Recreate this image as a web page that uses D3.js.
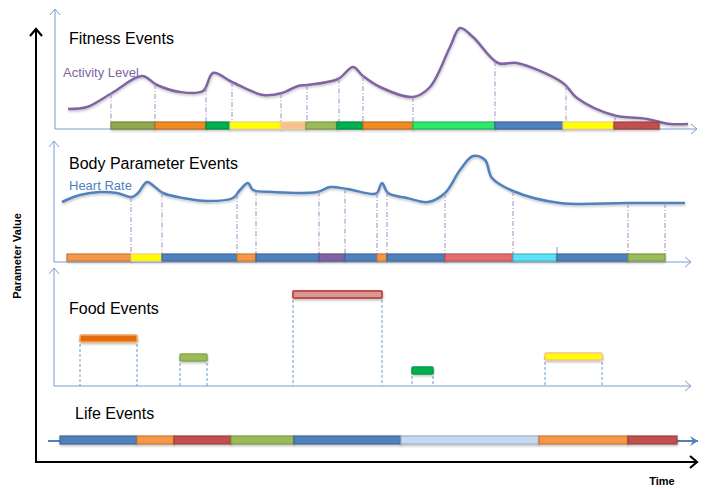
<!DOCTYPE html>
<html>
<head>
<meta charset="utf-8">
<script src="https://cdn.jsdelivr.net/npm/d3@7"></script>
<style>
  body { margin: 0; background: #fff; }
  text { font-family: "Liberation Sans", Arial, sans-serif; }
</style>
</head>
<body>
<div id="chart"></div>
<script>
// time runs from 0 to 630 along every panel, levels are 0..100

// Fitness panel
var activityLevel = [[8,20],[27,22],[52,36],[82,53],[97,44],[120,37],[143,38],[153,56],[172,47],
  [203,34],[222,36],[238,43],[247,44],[278,50],[293,62],[303,53],[320,42],[353,32],[370,42],
  [390,82],[400,101],[413,92],[438,66],[457,66],[503,46],[517,31],[553,14],[587,10],[610,5],[628,5]];
var fitnessBreaks = [51,95,146,170,221,246,277,303,353,435,503,554,599];
var fitnessColors = ["#8EAA4E","#F08A24","#00B050","#FFFF00","#FAC090","#9BBB59",
  "#00B050","#F08A24","#2EE86A","#4F81BD","#FFFF00","#C0504D"];
var fitnessMarks = [51,95,146,172,221,247,279,303,353,435,506,555];

// Body parameter panel
var heartRate = [[2,60],[20,67],[40,70],[57,69],[72,65],[78,69],[87,80],[95,75],[103,69],[123,64],
  [147,61],[173,64],[180,72],[188,79],[193,72],[213,70],[257,70],[270,75],[287,73],[313,68],
  [317,69],[322,79],[328,69],[347,64],[368,60],[385,69],[400,92],[413,106],[425,102],[432,84],
  [453,71],[500,59],[567,59],[625,59]];
var bodyBreaks = [7,71,102,177,196,259,285,317,327,385,453,497,568,605];
var bodyColors = ["#F79646","#FFFF00","#4F81BD","#F79646","#4F81BD","#8064A2","#4F81BD",
  "#F79646","#4F81BD","#E46C6C","#5BE0F5","#4F81BD","#9BBB59"];
var bodyMarks = [71,102,177,196,259,285,317,327,385,453,568,605];

// Food panel
var foodStart = [20,120,233,352,485];
var foodEnd = [77,147,322,373,542];
var foodAmount = [47,28,91,15,29];
var foodColors = ["#E46C0A","#9BBB59","#D99694","#00B050","#FFFF00"];

// Life panel
var lifeBreaks = [0,77,114,171,234,341,479,568,617];
var lifeColors = ["#4F81BD","#F79646","#C0504D","#9BBB59","#4F81BD","#C6D9F1","#F79646","#C0504D"];

var width = 705, height = 489;

var svg = d3.select("#chart")
  .append("svg")
  .attr("width", width)
  .attr("height", height);

var defs = svg.append("defs");
defs.append("marker")
  .attr("id", "blueArrow")
  .attr("markerUnits", "userSpaceOnUse")
  .attr("markerWidth", 12).attr("markerHeight", 12)
  .attr("refX", 7).attr("refY", 6)
  .attr("orient", "auto")
  .append("path")
  .attr("d", "M1,1 L7,6 L1,11")
  .attr("fill", "none")
  .attr("stroke", "#7A9ED0")
  .attr("stroke-width", 1);
defs.append("marker")
  .attr("id", "lifeArrow")
  .attr("markerUnits", "userSpaceOnUse")
  .attr("markerWidth", 12).attr("markerHeight", 12)
  .attr("refX", 9).attr("refY", 6)
  .attr("orient", "auto")
  .append("path")
  .attr("d", "M1,1 L9,6 L1,11 L4,6 Z")
  .attr("fill", "#4F81BD");
defs.append("marker")
  .attr("id", "blackArrow")
  .attr("markerUnits", "userSpaceOnUse")
  .attr("markerWidth", 14).attr("markerHeight", 14)
  .attr("refX", 9).attr("refY", 7)
  .attr("orient", "auto")
  .append("path")
  .attr("d", "M2,1 L9,7 L2,13")
  .attr("fill", "none")
  .attr("stroke", "#000")
  .attr("stroke-width", 2.2);

// soft shadow like the office drawing
var f = defs.append("filter").attr("id", "shadow")
  .attr("x", "-5%").attr("y", "-50%").attr("width", "110%").attr("height", "200%");
f.append("feDropShadow").attr("dx", 0.5).attr("dy", 1.5).attr("stdDeviation", 1)
  .attr("flood-color", "#000").attr("flood-opacity", 0.25);

var x = d3.scaleLinear().domain([0, 630]).range([60, 690]);
var yAct = d3.scaleLinear().domain([0, 100]).range([129, 29]);
var yHr = d3.scaleLinear().domain([0, 100]).range([262, 162]);
var yFood = d3.scaleLinear().domain([0, 100]).range([386, 286]);

function edge(c) {
  if (c === "#FFFF00" || c === "#FAC090") return "#F5D080";
  return d3.color(c).darker(0.6).formatHex();
}

// thin blue axes of each panel
function panelAxes(left, top, bottom, right) {
  svg.append("line")
    .attr("x1", left).attr("y1", bottom).attr("x2", left).attr("y2", top)
    .attr("stroke", "#7A9ED0").attr("stroke-width", 1)
    .attr("marker-end", "url(#blueArrow)");
  svg.append("line")
    .attr("x1", left).attr("y1", bottom).attr("x2", right).attr("y2", bottom)
    .attr("stroke", "#7A9ED0").attr("stroke-width", 1)
    .attr("marker-end", "url(#blueArrow)");
}
panelAxes(55, 9, 129, 697);
panelAxes(54, 141, 262, 691);
panelAxes(54, 268, 386, 691);

// life arrow
svg.append("line")
  .attr("x1", 48).attr("y1", 441).attr("x2", 698).attr("y2", 441)
  .attr("stroke", "#4F81BD").attr("stroke-width", 2)
  .attr("marker-end", "url(#lifeArrow)");

// big black axes
svg.append("line")
  .attr("x1", 36).attr("y1", 462).attr("x2", 36).attr("y2", 29)
  .attr("stroke", "#000").attr("stroke-width", 2)
  .attr("marker-end", "url(#blackArrow)");
svg.append("line")
  .attr("x1", 35).attr("y1", 462).attr("x2", 697).attr("y2", 462)
  .attr("stroke", "#000").attr("stroke-width", 2)
  .attr("marker-end", "url(#blackArrow)");

svg.append("text")
  .attr("x", 662).attr("y", 485)
  .attr("text-anchor", "middle")
  .style("font-size", "11px").style("font-weight", "bold")
  .text("Time");
svg.append("text")
  .attr("transform", "translate(21,256) rotate(-90)")
  .attr("text-anchor", "middle")
  .style("font-size", "11px").style("font-weight", "bold")
  .text("Parameter Value");

// titles
var titles = [["Fitness Events", 69, 44], ["Body Parameter Events", 69, 169],
  ["Food Events", 69, 314], ["Life Events", 75, 419]];
titles.forEach(function (t) {
  svg.append("text").attr("x", t[1]).attr("y", t[2])
    .style("font-size", "16px").attr("fill", "#000").text(t[0]);
});

// line generator
var line = d3.line().curve(d3.curveCatmullRom.alpha(0.5));

// finds the y of a drawn path at a given pixel x
function yOnPath(node, px) {
  var len = node.getTotalLength(), lo = 0, hi = len;
  for (var i = 0; i < 30; i++) {
    var mid = (lo + hi) / 2;
    if (node.getPointAtLength(mid).x < px) lo = mid; else hi = mid;
  }
  return node.getPointAtLength(lo).y;
}

function segmentBars(breaks, colors, top, h) {
  var segs = colors.map(function (c, i) { return { a: breaks[i], b: breaks[i + 1], c: c }; });
  svg.append("g")
    .selectAll("rect")
    .data(segs)
    .enter()
    .append("rect")
    .attr("x", function (d) { return x(d.a); })
    .attr("y", top)
    .attr("width", function (d) { return x(d.b) - x(d.a); })
    .attr("height", h)
    .attr("fill", function (d) { return d.c; })
    .attr("stroke", function (d) { return edge(d.c); })
    .attr("stroke-width", 1.2)
    .attr("filter", "url(#shadow)");
}

// ---- Fitness panel
var actPath = svg.append("path")
  .attr("d", line(activityLevel.map(function (d) { return [x(d[0]), yAct(d[1])]; })))
  .attr("fill", "none")
  .attr("stroke", "#8064A2")
  .attr("stroke-width", 2.5)
  .attr("filter", "url(#shadow)");
fitnessMarks.forEach(function (t) {
  svg.append("line")
    .attr("x1", x(t)).attr("x2", x(t))
    .attr("y1", yOnPath(actPath.node(), x(t))).attr("y2", 122)
    .attr("stroke", "#A08EC0").attr("stroke-width", 1)
    .attr("stroke-dasharray", "5,2,1,2");
});
segmentBars(fitnessBreaks, fitnessColors, 122, 7);
svg.append("text").attr("x", 63).attr("y", 77)
  .style("font-size", "13px").attr("fill", "#8064A2").text("Activity Level");

// ---- Body parameter panel
var hrPath = svg.append("path")
  .attr("d", line(heartRate.map(function (d) { return [x(d[0]), yHr(d[1])]; })))
  .attr("fill", "none")
  .attr("stroke", "#4F81BD")
  .attr("stroke-width", 2.5)
  .attr("filter", "url(#shadow)");
bodyMarks.forEach(function (t) {
  svg.append("line")
    .attr("x1", x(t)).attr("x2", x(t))
    .attr("y1", yOnPath(hrPath.node(), x(t))).attr("y2", 254)
    .attr("stroke", "#A08EC0").attr("stroke-width", 1)
    .attr("stroke-dasharray", "5,2,1,2");
});
svg.append("line")
  .attr("x1", x(497)).attr("x2", x(497)).attr("y1", 247).attr("y2", 255)
  .attr("stroke", "#7A9ED0").attr("stroke-width", 1);
segmentBars(bodyBreaks, bodyColors, 254, 7);
svg.append("text").attr("x", 69).attr("y", 190)
  .style("font-size", "13px").attr("fill", "#4F81BD").text("Heart Rate");

// ---- Food panel
var food = foodStart.map(function (s, i) {
  return { a: s, b: foodEnd[i], v: foodAmount[i], c: foodColors[i] };
});
var fg = svg.append("g");
food.forEach(function (d) {
  [d.a, d.b].forEach(function (t) {
    fg.append("line")
      .attr("x1", x(t)).attr("x2", x(t))
      .attr("y1", yFood(d.v)).attr("y2", 386)
      .attr("stroke", "#6F98CC").attr("stroke-width", 1)
      .attr("stroke-dasharray", "3,2");
  });
});
fg.selectAll("rect")
  .data(food)
  .enter()
  .append("rect")
  .attr("x", function (d) { return x(d.a); })
  .attr("y", function (d) { return yFood(d.v) - 4; })
  .attr("width", function (d) { return x(d.b) - x(d.a); })
  .attr("height", 7)
  .attr("rx", 1)
  .attr("fill", function (d) { return d.c; })
  .attr("stroke", function (d, i) { return ["#F5A860", "#8AAA4C", "#C0504D", "#00A048", "#FAC090"][i]; })
  .attr("stroke-width", function (d, i) { return i === 2 ? 2 : 1.5; })
  .attr("filter", "url(#shadow)");

// ---- Life panel
segmentBars(lifeBreaks, lifeColors, 436, 8);
</script>
</body>
</html>
